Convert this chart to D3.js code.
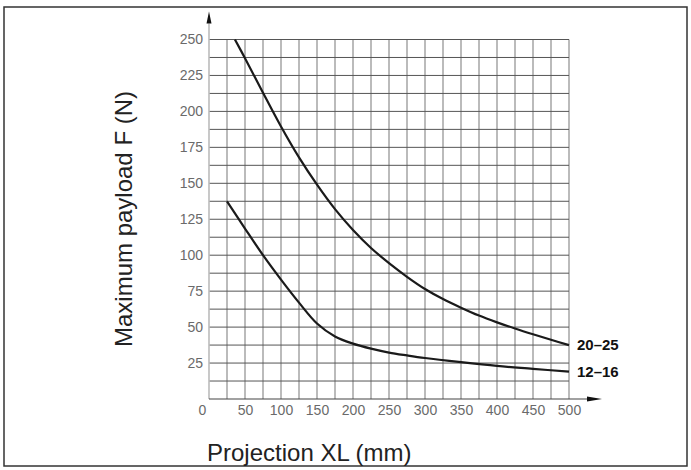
<!DOCTYPE html>
<html>
<head>
<meta charset="utf-8">
<script src="https://cdn.jsdelivr.net/npm/d3@7"></script>
<style>
  body { margin: 0; background: #fff; }
  svg { display: block; }
</style>
</head>
<body>
<div id="maViz"></div>
<script>
// chart parameters
const W = 691;
const H = 470;
const margin = {top: 39.5, right: 122, bottom: 71, left: 209};
const width = W - margin.left - margin.right;   // 360
const height = H - margin.top - margin.bottom;  // 359.5
const font = '"Liberation Sans", Arial, sans-serif';

// tick labels
const xTicks = [0, 50, 100, 150, 200, 250, 300, 350, 400, 450, 500];
const yTicks = [25, 50, 75, 100, 125, 150, 175, 200, 225, 250];
const xGrid = d3.range(25, 501, 25);      // vertical lines every 25 mm
const yGrid = d3.range(12.5, 251, 12.5);  // horizontal lines every 12.5 N

// curve 20-25
const projA = [36, 50, 75, 100, 125, 150, 175, 200, 225, 250, 275, 300, 325, 350, 375, 400, 425, 450, 475, 500];
const loadA = [250, 237, 213, 189.5, 168, 149, 132, 117.5, 105, 94.5, 85, 76.5, 69.5, 63.5, 58, 53.3, 49, 45, 41.2, 37.5];

// curve 12-16
const projB = [25, 50, 75, 100, 125, 150, 175, 200, 225, 250, 275, 300, 350, 400, 450, 500];
const loadB = [137.5, 118.5, 100, 83, 67, 52.5, 43.5, 38.5, 35, 32.3, 30.3, 28.5, 25.6, 23, 21, 19];

const seriesNames = ['20–25', '12–16'];
const axisTitles = ['Projection XL (mm)', 'Maximum payload F (N)'];

// scales
const x = d3.scaleLinear().domain([0, 500]).range([0, width]);
const y = d3.scaleLinear().domain([0, 250]).range([height, 0]);

const svg = d3.select('#maViz').append('svg')
  .attr('width', W)
  .attr('height', H);

// outer frame
svg.append('rect')
  .attr('x', 4).attr('y', 7)
  .attr('width', 683).attr('height', 459)
  .attr('fill', 'none')
  .attr('stroke', '#333')
  .attr('stroke-width', 1.5);

const g = svg.append('g')
  .attr('transform', `translate(${margin.left},${margin.top})`);

// vertical grid (light)
g.append('g')
  .selectAll('line')
  .data(xGrid)
  .join('line')
    .attr('x1', d => x(d)).attr('x2', d => x(d))
    .attr('y1', 0).attr('y2', height)
    .attr('stroke', '#aaa')
    .attr('stroke-width', 1.6);

// horizontal grid (dark)
g.append('g')
  .selectAll('line')
  .data(yGrid)
  .join('line')
    .attr('x1', 0).attr('x2', width)
    .attr('y1', d => y(d)).attr('y2', d => y(d))
    .attr('stroke', '#555')
    .attr('stroke-width', 1);

// y axis line + arrow
g.append('line')
  .attr('x1', 0).attr('x2', 0)
  .attr('y1', height).attr('y2', -16)
  .attr('stroke', '#bbb')
  .attr('stroke-width', 1.6);
g.append('path')
  .attr('d', `M0,${-28} L-2.5,${-16} L2.5,${-16} Z`)
  .attr('fill', '#111');

// x axis line + arrow
g.append('line')
  .attr('x1', 0).attr('x2', width + 18)
  .attr('y1', height).attr('y2', height)
  .attr('stroke', '#444')
  .attr('stroke-width', 1.2);
g.append('path')
  .attr('d', `M${width + 33},${height} L${width + 18},${height - 2.5} L${width + 18},${height + 2.5} Z`)
  .attr('fill', '#111');

// x tick labels
const xAxis = g.append('g')
  .attr('transform', `translate(0,${height})`)
  .call(d3.axisBottom(x).tickValues(xTicks).tickSize(0).tickPadding(6));
xAxis.select('.domain').remove();
xAxis.selectAll('text')
  .attr('font-family', font)
  .attr('font-size', 14)
  .attr('fill', '#6a6a6a')
  .attr('dx', d => d === 0 ? -7 : 0);

// y tick labels
const yAxis = g.append('g')
  .call(d3.axisLeft(y).tickValues(yTicks).tickSize(0).tickPadding(6));
yAxis.select('.domain').remove();
yAxis.selectAll('text')
  .attr('font-family', font)
  .attr('font-size', 14)
  .attr('fill', '#6a6a6a');

// curves
const line = d3.line()
  .x(d => x(d[0]))
  .y(d => y(d[1]))
  .curve(d3.curveCatmullRom.alpha(0.5));

const curves = [d3.zip(projA, loadA), d3.zip(projB, loadB)];

g.append('g')
  .selectAll('path')
  .data(curves)
  .join('path')
    .attr('d', line)
    .attr('fill', 'none')
    .attr('stroke', '#1a1a1a')
    .attr('stroke-width', 2.2);

// curve labels at the right end
g.append('g')
  .selectAll('text')
  .data(curves)
  .join('text')
    .attr('x', width + 8)
    .attr('y', d => y(d[d.length - 1][1]))
    .attr('dy', '0.35em')
    .attr('font-family', font)
    .attr('font-size', 15)
    .attr('font-weight', 'bold')
    .attr('fill', '#111')
    .text((d, i) => seriesNames[i]);

// axis titles
svg.append('text')
  .attr('x', 207)
  .attr('y', 453)
  .attr('dy', '0.35em')
  .attr('font-family', font)
  .attr('font-size', 24)
  .attr('fill', '#222')
  .text(axisTitles[0]);

svg.append('text')
  .attr('transform', 'translate(124,219) rotate(-90)')
  .attr('text-anchor', 'middle')
  .attr('dy', '0.35em')
  .attr('font-family', font)
  .attr('font-size', 24)
  .attr('fill', '#222')
  .text(axisTitles[1]);
</script>
</body>
</html>
